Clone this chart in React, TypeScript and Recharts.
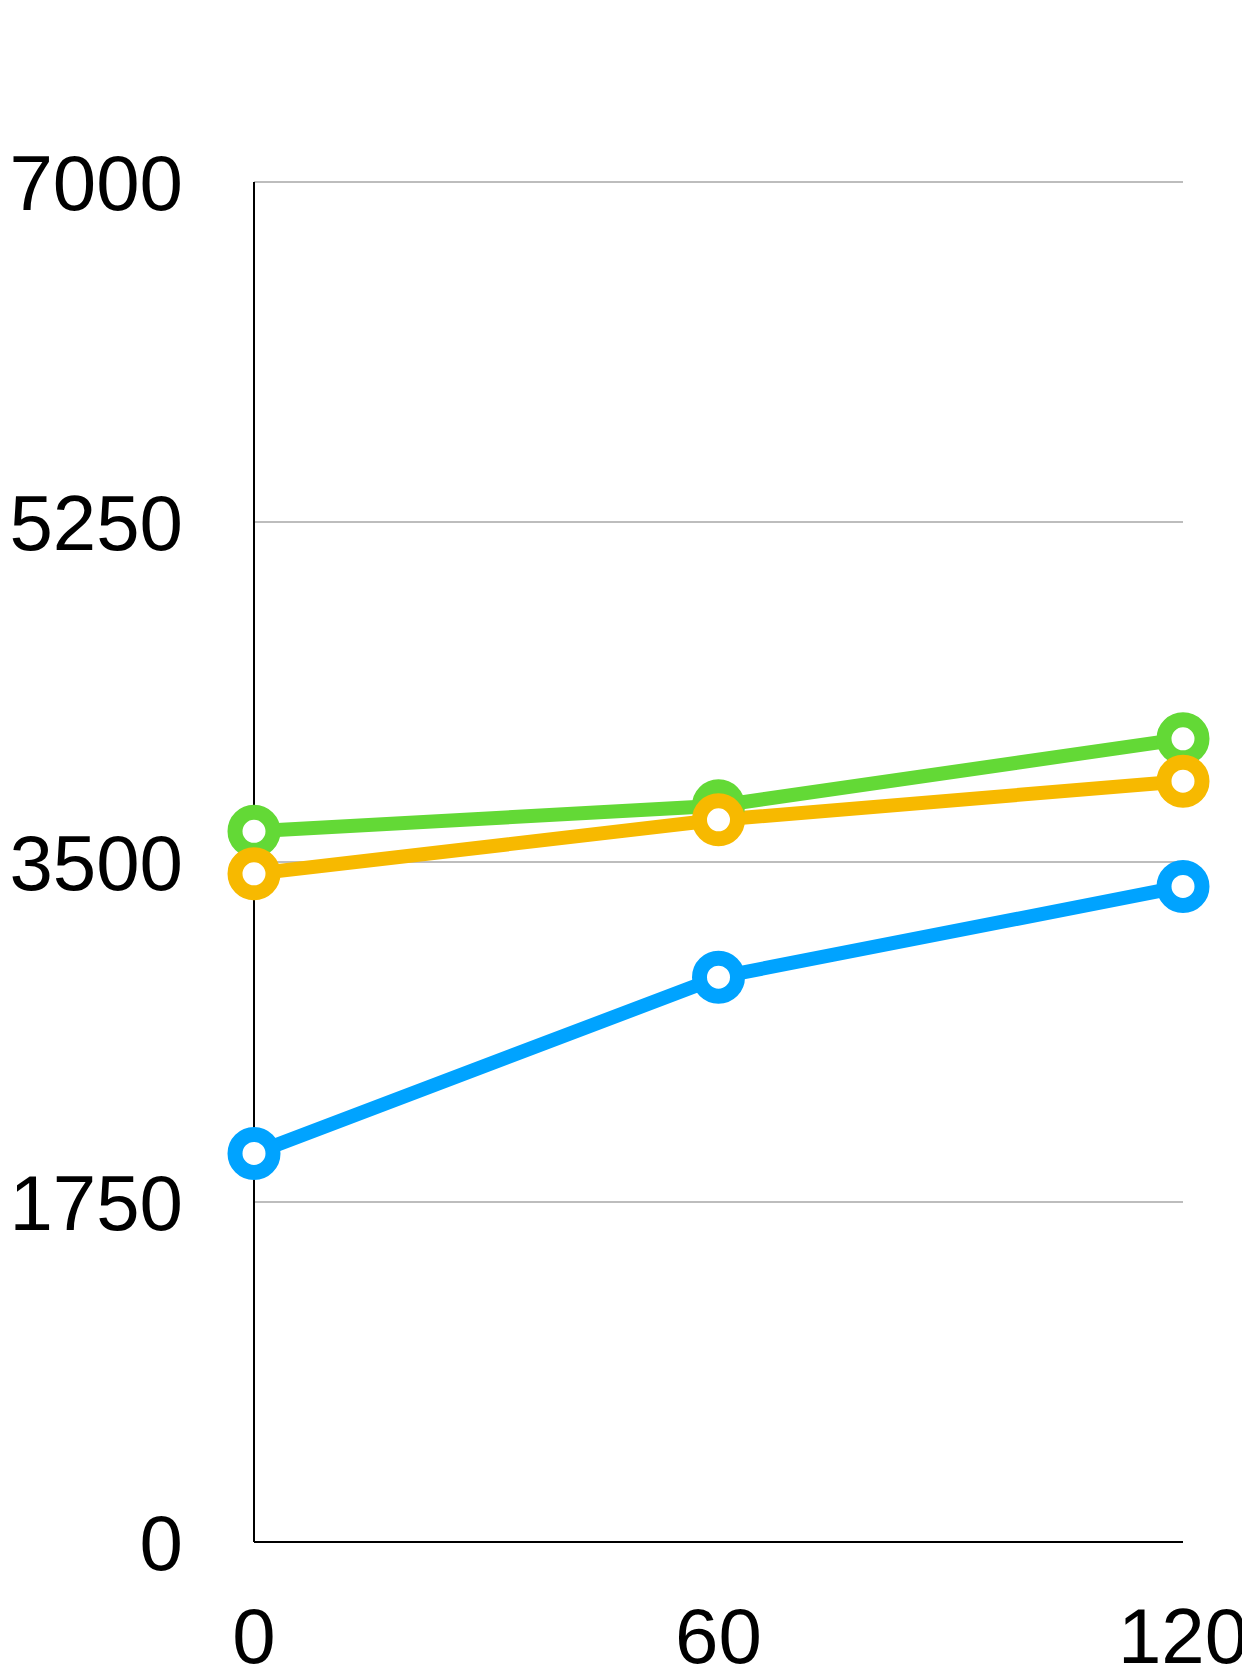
import { CartesianGrid, Line, LineChart, XAxis, YAxis } from "recharts"

const minutes = [0, 60, 120]
const blueValues = [2000, 2907, 3374]
const greenValues = [3658, 3790, 4134]
const orangeValues = [3439, 3717, 3916]
const xTicks = [0, 60, 120]
const yTicks = [0, 1750, 3500, 5250, 7000]

const data = minutes.map((m, i) => ({
  x: m,
  blue: blueValues[i],
  green: greenValues[i],
  orange: orangeValues[i],
}))

const font = { fontFamily: "'Liberation Sans', Arial, sans-serif", fontSize: 78, fill: "#000" }

const dot = (color: string) => ({ r: 19, stroke: color, strokeWidth: 15, fill: "#fff" })

export default function App() {
  return (
    <LineChart width={1242} height={1664} data={data} margin={{ top: 174, right: 67, bottom: 0, left: 0 }}>
      <CartesianGrid vertical={false} stroke="#bdbdbd" strokeWidth={2} />
      <XAxis
        dataKey="x"
        type="number"
        domain={[0, 120]}
        ticks={xTicks}
        height={130}
        tickLine={false}
        tickSize={8}
        tickMargin={58}
        axisLine={{ stroke: "#000", strokeWidth: 2 }}
        tick={font}
      />
      <YAxis
        type="number"
        domain={[0, 7000]}
        ticks={yTicks}
        width={246}
        tickLine={false}
        tickSize={8}
        tickMargin={63}
        axisLine={{ stroke: "#000", strokeWidth: 2 }}
        tick={font}
      />
      <Line dataKey="blue" stroke="#00a3ff" strokeWidth={14} dot={dot("#00a3ff")} activeDot={false} isAnimationActive={false} />
      <Line dataKey="green" stroke="#63d936" strokeWidth={14} dot={dot("#63d936")} activeDot={false} isAnimationActive={false} />
      <Line dataKey="orange" stroke="#f7b900" strokeWidth={14} dot={dot("#f7b900")} activeDot={false} isAnimationActive={false} />
    </LineChart>
  )
}
